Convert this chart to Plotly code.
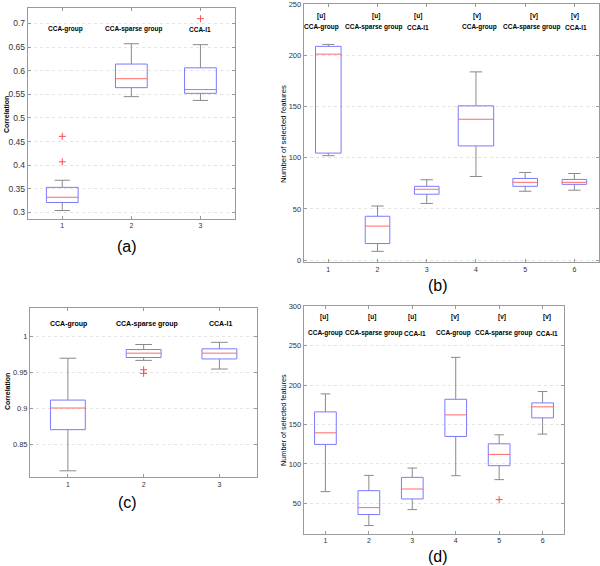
import plotly.graph_objects as go

# ---------------- data ----------------
# (a) correlation, 3 methods
a_names = ["CCA-group", "CCA-sparse group", "CCA-l1"]
a_lo = [0.304, 0.545, 0.537]
a_q1 = [0.321, 0.564, 0.552]
a_med = [0.332, 0.583, 0.560]
a_q3 = [0.353, 0.614, 0.606]
a_hi = [0.368, 0.657, 0.655]
a_out = [[0.407, 0.461], [], [0.710]]

# (b) number of selected features, 6 groups
b_tags = ["[u]", "[u]", "[u]", "[v]", "[v]", "[v]"]
b_names = ["CCA-group", "CCA-sparse group", "CCA-l1", "CCA-group", "CCA-sparse group", "CCA-l1"]
b_lo = [102.0, 8.7, 55.4, 81.7, 67.3, 68.3]
b_q1 = [104.5, 16.3, 64.4, 111.5, 72.1, 74.0]
b_med = [201.0, 33.3, 69.2, 137.5, 76.0, 76.0]
b_q3 = [208.6, 42.9, 72.1, 150.6, 79.8, 78.8]
b_hi = [210.5, 52.9, 78.5, 183.7, 85.6, 84.6]
b_out = [[], [], [], [], [], []]

# (c) correlation, 3 methods
c_names = ["CCA-group", "CCA-sparse group", "CCA-l1"]
c_lo = [0.814, 0.967, 0.955]
c_q1 = [0.871, 0.971, 0.969]
c_med = [0.901, 0.977, 0.977]
c_q3 = [0.912, 0.982, 0.983]
c_hi = [0.970, 0.989, 0.992]
c_out = [[], [0.954, 0.949], []]

# (d) number of selected features, 6 groups
d_tags = ["[u]", "[u]", "[u]", "[v]", "[v]", "[v]"]
d_names = ["CCA-group", "CCA-sparse group", "CCA-l1", "CCA-group", "CCA-sparse group", "CCA-l1"]
d_lo = [64.8, 21.7, 42.0, 85.0, 80.0, 137.8]
d_q1 = [124.7, 35.7, 55.5, 134.8, 97.7, 158.4]
d_med = [139.4, 44.5, 68.1, 162.2, 112.0, 172.4]
d_q3 = [166.0, 66.0, 82.9, 182.0, 125.5, 177.4]
d_hi = [188.8, 85.4, 94.7, 235.2, 136.9, 191.8]
d_out = [[], [], [], [], [54.6], []]

# ---------------- style ----------------
FONT = "Liberation Sans, Arial, sans-serif"
BOX_C = "#7a7aff"
MED_C = "#ff6a6a"
WHI_C = "#8a8a8a"
FRAME_C = "#9a9a9a"
GRID_C = "#e4e4e4"

fig = go.Figure()


def add_boxes(xa, ya, lo, q1, med, q3, hi, out, widths, capw):
    pos = list(range(1, len(med) + 1))
    bx, by, mx, my, wx, wy, cx, cy, ox, oy = [], [], [], [], [], [], [], [], [], []
    for i, p in enumerate(pos):
        h = widths[i] / 2.0
        c = capw / 2.0
        bx += [p - h, p + h, p + h, p - h, p - h, None]
        by += [q1[i], q1[i], q3[i], q3[i], q1[i], None]
        mx += [p - h, p + h, None]
        my += [med[i], med[i], None]
        wx += [p, p, None, p, p, None]
        wy += [q3[i], hi[i], None, q1[i], lo[i], None]
        cx += [p - c, p + c, None, p - c, p + c, None]
        cy += [hi[i], hi[i], None, lo[i], lo[i], None]
        for v in out[i]:
            ox.append(p)
            oy.append(v)
    common = dict(xaxis=xa, yaxis=ya, mode="lines", showlegend=False, hoverinfo="skip")
    fig.add_trace(go.Scatter(x=wx, y=wy, line=dict(color=WHI_C, width=1), **common))
    fig.add_trace(go.Scatter(x=cx, y=cy, line=dict(color=WHI_C, width=1), **common))
    fig.add_trace(go.Scatter(x=bx, y=by, line=dict(color=BOX_C, width=1), **common))
    fig.add_trace(go.Scatter(x=mx, y=my, line=dict(color=MED_C, width=1), **common))
    if ox:
        fig.add_trace(go.Scatter(x=ox, y=oy, xaxis=xa, yaxis=ya, mode="markers",
                                 marker=dict(symbol="cross-thin", size=5,
                                             line=dict(color="#ff4a4a", width=1)),
                                 showlegend=False, hoverinfo="skip"))


add_boxes("x", "y", a_lo, a_q1, a_med, a_q3, a_hi, a_out, [0.46] * 3, 0.22)
add_boxes("x2", "y2", b_lo, b_q1, b_med, b_q3, b_hi, b_out,
          [0.52, 0.5, 0.5, 0.72, 0.5, 0.5], 0.25)
add_boxes("x3", "y3", c_lo, c_q1, c_med, c_q3, c_hi, c_out, [0.46] * 3, 0.22)
add_boxes("x4", "y4", d_lo, d_q1, d_med, d_q3, d_hi, d_out, [0.5] * 6, 0.22)


def xax(domain, n, anchor):
    return dict(domain=domain, range=[0.5, n + 0.5], anchor=anchor, automargin=False,
                tickvals=list(range(1, n + 1)), ticktext=[str(i) for i in range(1, n + 1)],
                showline=True, mirror="ticks", linecolor=FRAME_C, linewidth=1,
                ticks="inside", ticklen=3, tickcolor=FRAME_C, showgrid=False, zeroline=False,
                ticklabeloverflow="allow",
                tickfont=dict(family=FONT, size=7, color="#333"))


def yax(domain, rng, dt, anchor, fs):
    return dict(domain=domain, range=rng, anchor=anchor, dtick=dt, automargin=False,
                showline=True, mirror="ticks", linecolor=FRAME_C, linewidth=1,
                ticks="inside", ticklen=3, tickcolor=FRAME_C, ticklabeloverflow="allow",
                showgrid=True, gridcolor=GRID_C, griddash="dot", gridwidth=1, zeroline=False,
                tickfont=dict(family=FONT, size=fs, color="#333"))


H = 566.0
W = 600.0
fig.update_layout(
    width=600, height=566, margin=dict(l=0, r=0, t=0, b=0, autoexpand=False),
    paper_bgcolor="white", plot_bgcolor="white",
    font=dict(family=FONT),
    xaxis=xax([27.7 / W, 235 / W], 3, "y"),
    yaxis=yax([1 - 219 / H, 1 - 8.3 / H], [0.286, 0.732], 0.05, "x", 8.5),
    xaxis2=xax([303.7 / W, 599 / W], 6, "y2"),
    yaxis2=yax([1 - 262.3 / H, 1 - 3.5 / H], [-2, 250.4], 50, "x2", 7.5),
    xaxis3=xax([30 / W, 257.3 / W], 3, "y3"),
    yaxis3=yax([1 - 477.3 / H, 1 - 307.7 / H], [0.805, 1.040], 0.05, "x3", 7.5),
    xaxis4=xax([303.7 / W, 564.3 / W], 6, "y4"),
    yaxis4=yax([1 - 534 / H, 1 - 306 / H], [11, 300.4], 50, "x4", 7.5),
)
fig.update_layout(yaxis3=dict(tickvals=[0.85, 0.9, 0.95, 1.0], ticktext=["0.85", "0.9", "0.95", "1"]))

ann = []


def text(x, y, t, xr, yr, size=6.5, bold=True):
    s = "<b>%s</b>" % t if bold else t
    ann.append(dict(x=x, y=y, xref=xr, yref=yr, text=s, showarrow=False,
                    font=dict(family=FONT, size=size, color="black"),
                    xanchor="center", yanchor="middle"))


# (a) labels
a_lx = [1.05, 2.03, 3.0]
for i, n in enumerate(a_names):
    text(a_lx[i], 0.688, n, "x", "y")
# (b) labels
b_tx = [0.85, 1.97, 2.83, 4.03, 5.17, 6.02]
b_lx = [0.87, 1.91, 2.83, 4.08, 5.12, 6.04]
for i in range(6):
    text(b_tx[i], 238, b_tags[i], "x2", "y2")
    text(b_lx[i], 227, b_names[i], "x2", "y2")
# (c) labels
c_lx = [1.01, 2.05, 3.02]
for i, n in enumerate(c_names):
    text(c_lx[i], 1.018, n, "x3", "y3", size=7)
# (d) labels
d_tx = [0.96, 2.07, 3.0, 3.99, 5.06, 6.1]
d_lx = [1.0, 2.11, 3.07, 3.96, 5.11, 6.1]
for i in range(6):
    text(d_tx[i], 287, d_tags[i], "x4", "y4")
    text(d_lx[i], 266, d_names[i], "x4", "y4")


# axis titles
def ytitle(x, y, t, size, bold):
    s = "<b>%s</b>" % t if bold else t
    ann.append(dict(x=x / W, y=1 - y / H, xref="paper", yref="paper", text=s, textangle=-90,
                    showarrow=False, font=dict(family=FONT, size=size, color="black"),
                    xanchor="center", yanchor="middle"))


ytitle(6, 115, "Correlation", 7, True)
ytitle(283, 134, "Number of selected features", 7.8, False)
ytitle(7, 392, "Correlation", 7, True)
ytitle(283, 420, "Number of selected features", 7.3, False)

# panel letters
for (x, y, t) in [(127.3, 246, "(a)"), (438.3, 285, "(b)"), (127.3, 502.7, "(c)"), (438.3, 556, "(d)")]:
    ann.append(dict(x=x / W, y=1 - y / H, xref="paper", yref="paper", text=t, showarrow=False,
                    font=dict(family=FONT, size=16, color="black"),
                    xanchor="center", yanchor="middle"))

fig.update_layout(annotations=ann)
fig.write_html("out.html", config={"displayModeBar": False},
               post_script="document.body.style.margin='0';")
